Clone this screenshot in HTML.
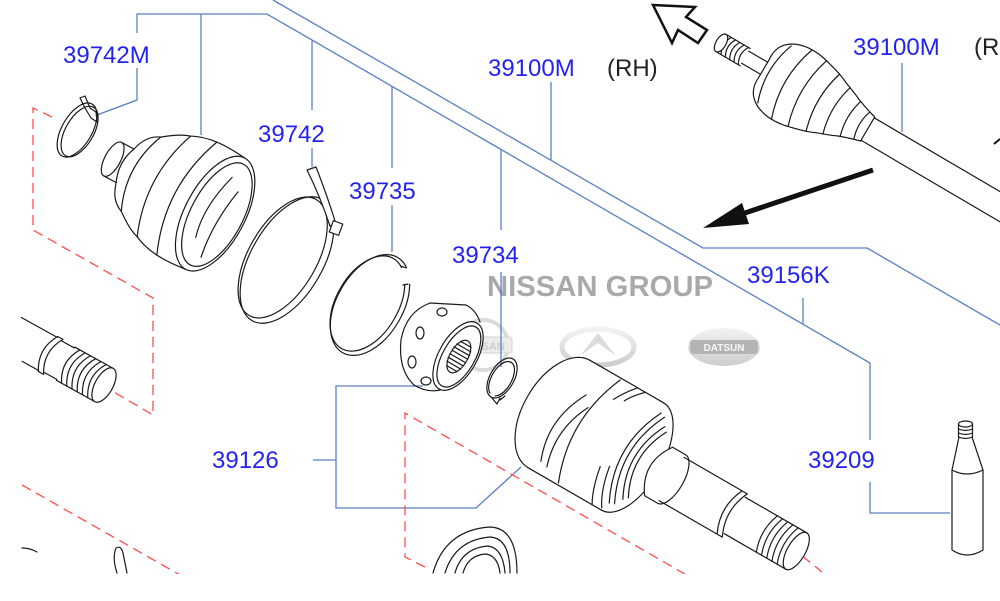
<!DOCTYPE html>
<html><head><meta charset="utf-8">
<style>
html,body{margin:0;padding:0;background:#fff;}
body{width:1000px;height:601px;overflow:hidden;}
svg{display:block;}
.k{stroke:#1a1a1a;fill:none;stroke-width:1.2;stroke-linecap:round;stroke-linejoin:round;}
.kw{stroke:#1a1a1a;fill:#fff;stroke-width:1.2;stroke-linejoin:round;}
.b{stroke:#5b7fc4;fill:none;stroke-width:1.3;}
.r{stroke:#ff4d4d;fill:none;stroke-width:1.3;stroke-dasharray:10 6;}
.t{font-family:"Liberation Sans",Arial,sans-serif;font-size:24px;fill:#2323f0;}
.tk{font-family:"Liberation Sans",Arial,sans-serif;font-size:24px;fill:#222;}
</style></head>
<body>
<svg width="1000" height="601" viewBox="0 0 1000 601" xmlns="http://www.w3.org/2000/svg">
<defs>
<clipPath id="cp"><rect x="0" y="0" width="1000" height="574"/></clipPath>
<linearGradient id="lg" x1="0" y1="0" x2="0" y2="1">
<stop offset="0" stop-color="#eeeeee"/><stop offset="1" stop-color="#bdbdbd"/></linearGradient>
</defs>
<g clip-path="url(#cp)">

<!-- logos (watermark) -->
<g opacity="0.75">
<circle cx="483" cy="345" r="25" fill="none" stroke="#cfcfcf" stroke-width="4"/>
<rect x="456" y="337" width="56" height="16" rx="2" fill="#e6e6e6" stroke="#c8c8c8"/>
<text x="484" y="350" font-family="Liberation Sans,sans-serif" font-size="11" font-weight="bold" fill="#bdbdbd" text-anchor="middle">NISSAN</text>
<ellipse cx="598" cy="347" rx="36" ry="18" fill="none" stroke="url(#lg)" stroke-width="5"/>
<path d="M580,356 L598,333 L616,356 L598,343 Z" fill="#d0d0d0"/>
<ellipse cx="724" cy="347" rx="36" ry="19" fill="url(#lg)"/>
<rect x="690" y="340" width="68" height="14" rx="3" fill="#9c9c9c"/>
<text x="724" y="351" font-family="Liberation Sans,sans-serif" font-size="10" font-weight="bold" fill="#f4f4f4" text-anchor="middle">DATSUN</text>
</g>
<text x="487" y="296" font-family="Liberation Sans,sans-serif" font-size="29" font-weight="bold" fill="#a9a9a9" textLength="226" lengthAdjust="spacingAndGlyphs">NISSAN GROUP</text>

<!-- blue leader lines -->
<path class="b" d="M137,33 V14 H267 L870,363 V440"/>
<path class="b" d="M273,0 L703,248 H867 L1000,325"/>
<path class="b" d="M201,14 V135"/>
<path class="b" d="M137,68 V100 L97,115"/>
<path class="b" d="M312,41 V110 M312,148 V167"/>
<path class="b" d="M392,86 V168 M392,205 V252"/>
<path class="b" d="M501,150 V230 M501,272 V367"/>
<path class="b" d="M551,160 V82"/>
<path class="b" d="M803,324 V298"/>
<path class="b" d="M870,482 V513 H950"/>
<path class="b" d="M902,63 V132"/>
<path class="b" d="M313,460 H336 M423,386 H336 V508 H476 L521,467"/>

<!-- red dashed -->
<path class="r" d="M52,117 L33,108 V230 L153,298 V415 L107,388"/>
<path class="r" d="M22,485 L180,575"/>
<path class="r" d="M425,567 L405,557 V413 L690,577"/>
<path class="r" d="M790,546 L822,572"/>

<!-- A: clamp 39742M -->
<g transform="translate(77,130) rotate(30)">
<ellipse class="k" cx="0" cy="0" rx="15" ry="30"/>
<ellipse class="k" cx="3" cy="0" rx="14" ry="28"/>
</g>
<path class="k" d="M80,98 L85,96 L90,108 L96,112 L97,122 L91,118 L85,108 Z"/>

<!-- B: boot -->
<g transform="translate(118,162) rotate(28)">
<ellipse class="k" cx="-6" cy="0" rx="8" ry="19"/>
<path class="k" d="M-6,-19 H8 M-6,19 H8"/>
<path class="k" d="M8,-19 Q0,0 8,19"/>
<path class="k" d="M8,-19 C11,-30 16,-38 26,-42 C34,-48 42,-54 52,-57 C60,-61 68,-63 78,-64 C90,-65 100,-64 110,-63"/>
<path class="k" d="M8,19 C11,30 16,38 26,42 C34,48 42,54 52,57 C60,61 68,63 78,64 C90,65 100,64 110,63"/>
<path class="k" d="M26,-42 Q8,0 26,42"/>
<path class="k" d="M52,-57 Q30,0 52,57"/>
<path class="k" d="M78,-64 Q52,0 78,64"/>
<ellipse class="k" cx="110" cy="0" rx="30" ry="63"/>
<ellipse class="k" cx="112" cy="0" rx="26" ry="57"/>
<path class="k" d="M108,-40 Q96,0 104,30"/>
<path class="k" d="M120,-30 Q112,10 118,45"/>
</g>

<!-- C: band 39742 -->
<g transform="translate(287,260) rotate(30)">
<ellipse class="k" cx="0" cy="0" rx="36" ry="70"/>
<ellipse class="k" cx="-5" cy="0" rx="34" ry="67"/>
</g>
<path class="kw" d="M307,170 L316,167 Q327,195 336,224 L330,226 Q320,196 307,170 Z"/>
<rect class="kw" x="331" y="222" width="10" height="12" transform="rotate(20 336 228)"/>

<!-- D: snap ring 39735 -->
<g transform="translate(370,305) rotate(30)">
<ellipse class="k" cx="0" cy="0" rx="33" ry="55"/>
<ellipse class="k" cx="-3" cy="0" rx="31" ry="52"/>
</g>
<rect x="398" y="268" width="18" height="16" fill="#fff"/>
<path class="k" d="M401,266 L406,268 M403,285 L408,284"/>

<!-- E: cage / inner race -->
<path class="k" d="M430,303 L466,305 Q476,310 480,322"/>
<path class="k" d="M430,303 Q406,312 401,340 Q398,370 414,385 Q427,393 440,390"/>
<ellipse class="k" cx="442" cy="312" rx="5" ry="4"/>
<ellipse class="k" cx="420" cy="333" rx="4" ry="6"/>
<ellipse class="k" cx="412" cy="362" rx="4" ry="6"/>
<ellipse class="k" cx="426" cy="381" rx="5" ry="4"/>
<g transform="translate(458,356) rotate(30)">
<ellipse class="kw" cx="0" cy="0" rx="19" ry="38"/>
<ellipse class="k" cx="1" cy="0" rx="16" ry="34"/>
<ellipse class="kw" cx="1" cy="0" rx="9" ry="18"/>
<path class="k" d="M-5,-14 H7 M-7,-10 H9 M-8,-6 H9 M-8,-2 H10 M-8,2 H10 M-8,6 H9 M-7,10 H9 M-5,14 H7"/>
</g>

<!-- F: circlip -->
<g transform="translate(502,378) rotate(30)">
<ellipse class="k" cx="0" cy="0" rx="12" ry="22"/>
<path class="k" d="M-3,19 A10,19 0 1 1 3,19"/>
</g>
<path class="k" d="M492,398 L497,404 L500,398 M500,400 L505,396"/>

<!-- G: outer housing & shaft -->
<g transform="translate(559,414) rotate(30)">
<path class="kw" d="M0,-62 H85 A30,62 0 0 1 85,62 H0 A36,62 0 0 1 0,-62 Z"/>
<path class="k" d="M14,-30 Q-8,10 8,50"/>
<path class="k" d="M22,-20 Q4,15 16,52"/>
<path class="k" d="M36,-60 Q10,0 34,60"/>
<path class="k" d="M55,-62 Q45,-50 40,-40"/>
<path class="k" d="M64,-62 Q54,-52 50,-44"/>
<path class="k" d="M70,20 Q74,45 84,60"/>
<path class="k" d="M62,25 Q66,48 74,62"/>
<path class="k" d="M88,-52 Q62,0 88,52"/>
<path class="k" d="M93,-50 Q68,0 93,50"/>
<path class="k" d="M98,-42 Q76,0 98,42"/>
<path class="k" d="M102,-38 Q82,0 102,38"/>
<path class="kw" d="M115,-28 H130 A12,28 0 0 1 130,28 H115 Q95,0 115,-28 Z"/>
<path class="k" d="M130,-25 H197 M130,25 H197"/>
<path class="k" d="M197,-25 Q185,0 197,25 M203,-25 Q191,0 203,25 M197,-25 H203 M197,25 H203"/>
<path class="k" d="M203,-21 H274 M203,21 H274"/>
<path class="k" d="M240,-21 Q232,0 240,21 M246,-21 Q238,0 246,21 M252,-21 Q244,0 252,21 M258,-21 Q250,0 258,21 M264,-21 Q256,0 264,21"/>
<ellipse class="kw" cx="274" cy="0" rx="9" ry="21"/>
</g>

<!-- H: left shaft end -->
<g transform="translate(104,385) rotate(29)">
<path class="k" d="M0,-19 H-44 M0,19 H-44"/>
<path class="k" d="M-8,-19 Q-20,0 -8,19 M-14,-19 Q-26,0 -14,19 M-20,-19 Q-32,0 -20,19 M-26,-19 Q-38,0 -26,19 M-32,-19 Q-44,0 -32,19 M-38,-19 Q-50,0 -38,19"/>
<path class="k" d="M-44,-18 H-58 M-44,18 H-58"/>
<path class="k" d="M-58,-20 Q-70,0 -58,20 M-64,-20 Q-76,0 -64,20 M-58,-20 H-64 M-58,20 H-64"/>
<path class="k" d="M-64,-19 H-105 M-64,19 H-83"/>
<ellipse class="kw" cx="0" cy="0" rx="9" ry="19"/>
</g>

<!-- bottom bits -->
<path class="k" d="M22,548 Q30,548 37,552"/>
<path class="k" d="M117,573 Q112,558 116,548 Q121,545 123,553 Q125,563 127,573"/>
<path class="k" d="M433,573 Q445,530 490,527 Q517,528 517,573"/>
<path class="k" d="M445,573 Q455,540 490,537 Q510,538 510,573"/>
<path class="k" d="M455,573 Q462,548 488,546 Q503,548 505,573"/>
<path class="k" d="M463,573 Q468,555 486,554 Q498,556 500,573"/>

<!-- K: upper right shaft assembly -->
<g transform="translate(721,43) rotate(30.4)">
<path class="k" d="M0,-10 H28 M0,10 H28"/>
<path class="k" d="M6,-10 Q0,0 6,10 M11,-10 Q5,0 11,10 M16,-10 Q10,0 16,10 M21,-10 Q15,0 21,10 M26,-10 Q20,0 26,10"/>
<ellipse class="kw" cx="0" cy="0" rx="5" ry="10"/>
<path class="k" d="M28,-7 H52 M28,7 H52"/>
<path class="kw" d="M50,-10 C48,-28 60,-38 78,-40 C92,-41 100,-38 108,-36 C116,-34 122,-32 128,-29 C136,-26 142,-24 148,-21 C156,-18 162,-16 170,-14 L170,14 C162,16 156,18 148,21 C142,24 136,26 128,29 C122,32 116,34 108,36 C100,38 92,41 78,40 C60,38 48,28 50,10 Z"/>
<path class="k" d="M62,-33 Q50,0 62,33 M82,-40 Q68,0 82,40 M100,-38 Q88,0 100,38 M118,-33 Q108,0 118,33 M134,-27 Q126,0 134,27 M150,-20 Q144,0 150,20 M163,-15 Q158,0 163,15"/>
<path class="k" d="M170,-13 H345 M170,13 H345"/>
</g>
<path d="M994,144 L1000,139" stroke="#111" stroke-width="2"/>

<!-- arrows -->
<path d="M873,170 L742,214" stroke="#111" stroke-width="5" fill="none"/>
<polygon points="703,228 742,203 749,224" fill="#111"/>
<polygon points="653,5 695,7 686,17 707,30 698,43 678,30 672,43" fill="#fff" stroke="#111" stroke-width="2.5" stroke-linejoin="miter"/>

<!-- pin 39209 -->
<path class="kw" d="M952,470 L959,437 L972,437 L983,470 V550 Q967,560 952,550 Z"/>
<path class="k" d="M952,470 Q967,478 983,470"/>
<path class="kw" d="M958.5,424 V437 Q965.5,440 972.5,437 V424 Z"/>
<ellipse class="kw" cx="965.5" cy="424" rx="7" ry="3"/>
<path class="k" d="M958.5,429 Q965.5,432 972.5,429 M958.5,433 Q965.5,436 972.5,433"/>

<!-- labels -->
<text class="t" x="63" y="63">39742M</text>
<text class="t" x="258" y="142">39742</text>
<text class="t" x="349" y="199">39735</text>
<text class="t" x="452" y="263">39734</text>
<text class="t" x="488" y="76">39100M</text>
<text class="tk" x="607" y="76">(RH)</text>
<text class="t" x="853" y="55">39100M</text>
<text class="tk" x="974" y="55">(RH)</text>
<text class="t" x="747" y="283">39156K</text>
<text class="t" x="808" y="468">39209</text>
<text class="t" x="212" y="468">39126</text>
</g>
</svg>
</body></html>
